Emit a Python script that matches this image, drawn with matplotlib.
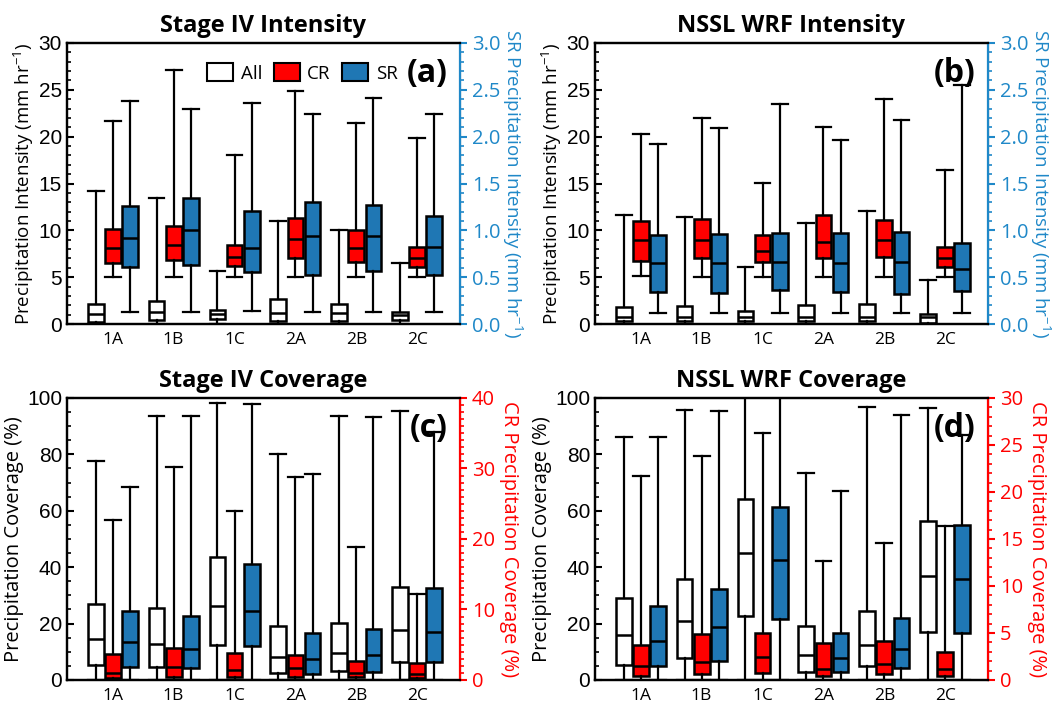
import matplotlib.pyplot as plt
from matplotlib.patches import Patch
from matplotlib.ticker import MultipleLocator

plt.rcParams['font.family'] = ['Open Sans', 'DejaVu Sans']
plt.rcParams['mathtext.default'] = 'regular'

categories = ['1A', '1B', '1C', '2A', '2B', '2C']

# each row: low whisker, q1, median, q3, high whisker
# (a) Stage IV intensity, mm/hr (SR on right axis)
st4_int_all = [[0, 0.2, 1.07, 2.1, 14.2], [0, 0.4, 1.3, 2.45, 13.5], [0, 0.5, 1.07, 1.5, 5.7],
               [0, 0.35, 1.15, 2.65, 11.0], [0, 0.35, 1.15, 2.15, 10.0], [0, 0.4, 0.95, 1.3, 6.5]]
st4_int_cr = [[5.05, 6.55, 8.1, 10.15, 21.7], [5.0, 6.8, 8.4, 10.5, 27.1], [5.0, 6.2, 7.2, 8.45, 18.0],
              [5.0, 7.1, 9.05, 11.3, 24.9], [5.0, 6.65, 8.1, 10.05, 21.5], [5.0, 6.1, 7.1, 8.25, 19.9]]
st4_int_sr = [[0.125, 0.605, 0.915, 1.255, 2.38], [0.125, 0.625, 1.005, 1.35, 2.30],
              [0.14, 0.55, 0.81, 1.21, 2.36], [0.125, 0.52, 0.935, 1.305, 2.245],
              [0.125, 0.565, 0.94, 1.27, 2.41], [0.125, 0.52, 0.82, 1.155, 2.24]]

# (b) NSSL WRF intensity
wrf_int_all = [[0, 0.35, 0.8, 1.85, 11.65], [0, 0.35, 0.7, 1.9, 11.4], [0, 0.35, 0.8, 1.4, 6.1],
               [0, 0.35, 0.8, 2.05, 10.8], [0, 0.35, 0.8, 2.1, 12.1], [0, 0.15, 0.8, 1.1, 4.65]]
wrf_int_cr = [[5.1, 6.75, 9.0, 11.05, 20.3], [5.0, 7.1, 9.0, 11.2, 22.0], [5.0, 6.6, 7.75, 9.5, 15.1],
              [5.0, 7.1, 8.75, 11.65, 21.0], [5.0, 7.2, 9.0, 11.1, 24.0], [5.0, 6.1, 7.1, 8.25, 16.4]]
wrf_int_sr = [[0.115, 0.34, 0.655, 0.95, 1.92], [0.115, 0.33, 0.65, 0.96, 2.09],
              [0.115, 0.365, 0.665, 0.97, 2.35], [0.115, 0.34, 0.655, 0.975, 1.965],
              [0.115, 0.32, 0.665, 0.985, 2.18], [0.115, 0.35, 0.585, 0.86, 2.55]]

# (c) Stage IV coverage, % (CR on right axis)
st4_cov_all = [[0, 5.3, 14.6, 27.0, 77.8], [0, 4.7, 12.8, 25.4, 93.7], [0, 12.4, 26.3, 43.5, 98.2],
               [0, 2.4, 8.05, 19.2, 80.2], [0, 3.3, 9.5, 20.1, 93.7], [0, 6.5, 17.75, 33.1, 95.3]]
st4_cov_cr = [[0, 0.24, 1.04, 3.64, 22.7], [0, 0.48, 1.88, 4.48, 30.2], [0, 0.38, 1.42, 3.8, 24.0],
              [0, 0.38, 1.64, 3.56, 28.8], [0, 0.38, 1.04, 2.76, 18.8], [0, 0.24, 0.84, 2.36, 12.2]]
st4_cov_sr = [[0, 4.5, 13.4, 24.6, 68.3], [0, 4.1, 11.0, 22.8, 93.5], [0, 12.1, 24.3, 41.2, 98.0],
              [0, 2.1, 7.3, 16.6, 73.1], [0, 2.7, 8.9, 18.1, 93.1], [0, 6.3, 16.9, 32.5, 88.0]]

# (d) NSSL WRF coverage
wrf_cov_all = [[0, 5.35, 15.8, 29.25, 86.2], [0, 7.7, 20.8, 35.8, 95.8], [0, 22.7, 45.2, 64.3, 104],
               [0, 2.7, 8.9, 19.0, 73.5], [0, 5.1, 12.5, 24.4, 96.7], [0, 17.0, 36.9, 56.2, 96.4]]
wrf_cov_cr = [[0, 0.47, 1.53, 3.68, 21.75], [0, 0.63, 1.95, 4.92, 23.8], [0, 0.75, 2.49, 5.04, 26.3],
              [0, 0.47, 1.17, 3.93, 12.7], [0, 0.63, 1.65, 4.2, 14.55], [0, 0.47, 1.17, 2.97, 16.4]]
wrf_cov_sr = [[0, 4.9, 13.7, 26.3, 86.2], [0, 6.9, 18.8, 32.1, 95.5], [0, 21.8, 42.6, 61.4, 104],
              [0, 2.7, 7.7, 16.6, 66.9], [0, 4.3, 11.05, 22.0, 94.1], [0, 16.6, 35.7, 54.8, 87.0]]

RED = '#ff0000'
BLUE = '#1f77b4'
AXBLUE = '#1f88c8'
WIDTH = 0.26
OFFSET = 0.28


def draw_boxes(ax, rows, shift, color):
    stats = [dict(whislo=r[0], q1=r[1], med=r[2], q3=r[3], whishi=r[4]) for r in rows]
    pos = [i + 1 + shift for i in range(len(rows))]
    ax.bxp(stats, positions=pos, widths=WIDTH, capwidths=WIDTH, showfliers=False,
           patch_artist=True, manage_ticks=False,
           boxprops=dict(facecolor=color, edgecolor='black', linewidth=1.8),
           medianprops=dict(color='black', linewidth=1.8),
           whiskerprops=dict(color='black', linewidth=1.6),
           capprops=dict(color='black', linewidth=1.6))


def style_axes(ax, ax2, ymax, major, minor, ymax2, major2, minor2, col2, fmt2):
    ax.set_xlim(0.25, 6.7)
    ax.set_ylim(0, ymax)
    ax.set_xticks(range(1, 7))
    ax.set_xticklabels(categories, fontsize=12.5)
    ax.tick_params(axis='x', length=0, pad=6)
    ax.yaxis.set_major_locator(MultipleLocator(major))
    ax.yaxis.set_minor_locator(MultipleLocator(minor))
    ax.tick_params(axis='y', which='major', direction='in', length=5, width=1.5,
                   labelsize=15, labelfontfamily='Liberation Sans')
    ax.tick_params(axis='y', which='minor', direction='in', length=3, width=1.2)
    ax2.set_ylim(0, ymax2)
    ax2.yaxis.set_major_locator(MultipleLocator(major2))
    ax2.yaxis.set_minor_locator(MultipleLocator(minor2))
    ax2.yaxis.set_major_formatter(fmt2)
    ax2.tick_params(axis='y', which='major', direction='out', length=5, width=1.5,
                    colors=col2, labelsize=14.5)
    ax2.tick_params(axis='y', which='minor', direction='out', length=3, width=1.2, colors=col2)
    for s in ['left', 'top', 'bottom']:
        ax.spines[s].set_linewidth(1.6)
        ax2.spines[s].set_linewidth(1.6)
    ax2.spines['right'].set_color(col2)
    ax2.spines['right'].set_linewidth(1.6)


fig = plt.figure(figsize=(10.56, 7.07), dpi=100)
rects = [[0.0634, 0.5417, 0.3722, 0.3975], [0.5634, 0.5417, 0.3722, 0.3975],
         [0.0634, 0.0382, 0.3722, 0.3989], [0.5634, 0.0382, 0.3722, 0.3989]]
titles = ['Stage IV Intensity', 'NSSL WRF Intensity', 'Stage IV Coverage', 'NSSL WRF Coverage']
letters = ['(a)', '(b)', '(c)', '(d)']

int_label = 'Precipitation Intensity (mm hr$^{-1}$)'
sr_label = 'SR Precipitation Intensity (mm hr$^{-1}$)'
cov_label = 'Precipitation Coverage (%)'
cr_label = 'CR Precipitation Coverage (%)'

intensity = [(st4_int_all, st4_int_cr, st4_int_sr), (wrf_int_all, wrf_int_cr, wrf_int_sr)]
coverage = [(st4_cov_all, st4_cov_cr, st4_cov_sr, 40), (wrf_cov_all, wrf_cov_cr, wrf_cov_sr, 30)]

axes = []
for k in range(4):
    ax = fig.add_axes(rects[k])
    ax2 = ax.twinx()
    if k < 2:
        all_rows, cr_rows, sr_rows = intensity[k]
        draw_boxes(ax, all_rows, -OFFSET, 'white')
        draw_boxes(ax, cr_rows, 0, RED)
        draw_boxes(ax2, sr_rows, OFFSET, BLUE)
        style_axes(ax, ax2, 30, 5, 1, 3.0, 0.5, 0.1, AXBLUE, '{x:.1f}')
        ax.set_ylabel(int_label, fontsize=13.5, labelpad=2)
        ax2.set_ylabel(sr_label, fontsize=13.5, color=AXBLUE, rotation=270, labelpad=17)
    else:
        all_rows, cr_rows, sr_rows, crmax = coverage[k - 2]
        draw_boxes(ax, all_rows, -OFFSET, 'white')
        draw_boxes(ax2, cr_rows, 0, RED)
        draw_boxes(ax, sr_rows, OFFSET, BLUE)
        style_axes(ax, ax2, 100, 20, 5, crmax, 10 if crmax == 40 else 5, 1, RED, '{x:.0f}')
        ax.set_ylabel(cov_label, fontsize=14.5, labelpad=2)
        ax2.set_ylabel(cr_label, fontsize=14.5, color=RED, rotation=270, labelpad=17)
    ax.set_title(titles[k], fontsize=17, fontweight='bold', pad=8)
    ax2.text(0.968, 0.89, letters[k], transform=ax.transAxes, ha='right', va='center',
             fontsize=23, fontweight='bold')
    axes.append(ax)

handles = [Patch(facecolor='white', edgecolor='black', linewidth=1.5, label='All'),
           Patch(facecolor=RED, edgecolor='black', linewidth=1.5, label='CR'),
           Patch(facecolor=BLUE, edgecolor='black', linewidth=1.5, label='SR')]
fig.axes[1].legend(handles=handles, loc='upper right', bbox_to_anchor=(0.875, 0.975),
                   bbox_transform=axes[0].transAxes, ncol=3, frameon=False, fontsize=13.5,
                   handlelength=1.4, handleheight=1.1, columnspacing=0.6, handletextpad=0.4,
                   borderpad=0.2)

fig.savefig('out.png', dpi=100)
